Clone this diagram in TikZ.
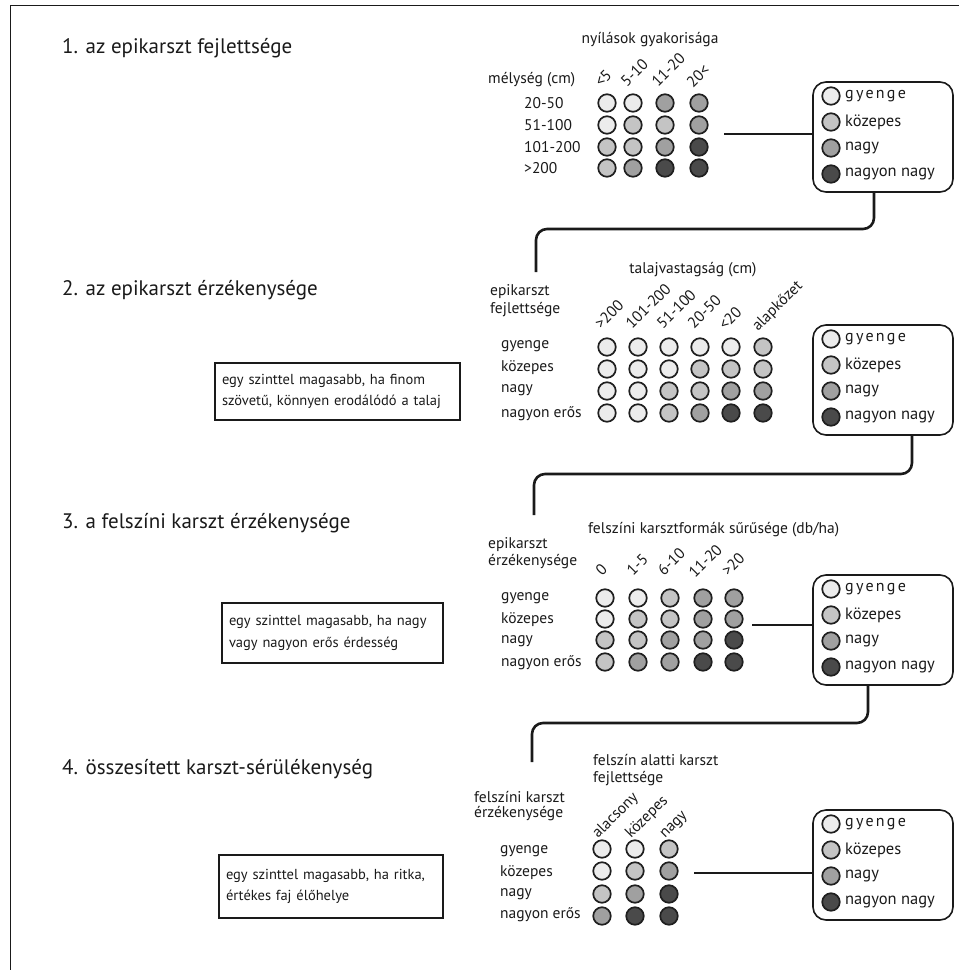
\documentclass[tikz,border=0pt]{standalone}
\usepackage{fontspec}
\setmainfont{PT Sans}
\newfontfamily\spfont[LetterSpace=14]{PT Sans}
\definecolor{g1}{HTML}{ECECEC}
\definecolor{g2}{HTML}{C4C4C4}
\definecolor{g3}{HTML}{A0A0A0}
\definecolor{g4}{HTML}{4A4A4A}
\definecolor{ink}{HTML}{1A1A1A}
\newcommand{\dotrow}[4]{%
  \foreach \xx/\ff [count=\cc] in {#4} {\node[dot,fill=g\ff] (#1-#2-\cc) at (\xx,#3) {};}}
\newcommand{\legendbox}[2]{%
  \node[legbox] (#1) at (883,#2) {};
  \node[dot,fill=g1] (#1-d1) at (831,#2-41) {};
  \node[lgt,font=\fontsize{16}{18}\selectfont\spfont] (#1-t1) at (845,#2-41) {gyenge};
  \node[dot,fill=g2] (#1-d2) at (831,#2-15) {};
  \node[lgt] (#1-t2) at (845,#2-15) {közepes};
  \node[dot,fill=g3] (#1-d3) at (831,#2+11) {};
  \node[lgt] (#1-t3) at (845,#2+11) {nagy};
  \node[dot,fill=g4] (#1-d4) at (831,#2+37) {};
  \node[lgt] (#1-t4) at (845,#2+37) {nagyon nagy};}
\tikzset{
  lab/.style={font=\fontsize{15.5}{17}\selectfont, inner sep=0pt, anchor=west, text=ink},
  lgt/.style={font=\fontsize{16.5}{18}\selectfont, inner sep=0pt, anchor=west, text=ink},
  ttl/.style={font=\fontsize{21}{24}\selectfont, inner sep=0pt, anchor=west, text=ink},
  hdr/.style={font=\fontsize{15.5}{17}\selectfont, rotate=45, anchor=base west, inner sep=0pt, text=ink},
  dot/.style={circle, draw=black!88, line width=1.7pt, minimum size=17.5pt, inner sep=0pt},
  legbox/.style={draw=ink, rounded corners=13pt, line width=1.6pt, minimum width=140pt, minimum height=110pt},
  note/.style={draw=ink, line width=1.5pt, align=left, inner xsep=7pt, text=ink,
    font=\fontsize{14.5}{21.5}\selectfont},
  conn/.style={draw=ink, line width=2.6pt, rounded corners=11pt},
}
\begin{document}
\begin{tikzpicture}[x=1pt,y=-1pt]
\useasboundingbox (0,0) rectangle (959,970);
\fill[white] (0,0) rectangle (959,970);
% page frame
\coordinate (fa) at (10,970);
\coordinate (fb) at (10,5);
\coordinate (fc) at (959,5);
\draw[ink, line width=1pt] (fa) -- (fb) -- (fc);

% ---------- section 1 ----------
\node[ttl] (t1) at (62,48) {1. az epikarszt fejlettsége};
\node[lab, anchor=center] (h1) at (650,40) {nyílások gyakorisága};
\node[lab] (y1) at (488,80) {mélység (cm)};
\node[lab] (r1a) at (524,103) {20-50};
\node[lab] (r1b) at (524,125) {51-100};
\node[lab] (r1c) at (524,147) {101-200};
\node[lab] (r1d) at (524,168) {>200};
\node[hdr] (c1a) at (601,88) {<5};
\node[hdr] (c1b) at (627,88) {5-10};
\node[hdr] (c1c) at (658,88) {11-20};
\node[hdr] (c1d) at (693,89) {20<};
\dotrow{a}{1}{103}{607/1,633/1,665/3,699/3}
\dotrow{a}{2}{125}{607/1,633/2,665/2,699/3}
\dotrow{a}{3}{147}{607/2,633/2,665/3,699/4}
\dotrow{a}{4}{168}{607/2,633/3,665/4,699/4}
\legendbox{L1}{137}
\coordinate (m1) at (724,134);
\draw[conn] (m1) -- (m1 -| L1.west);

% connector 1 -> 2
\coordinate (k1) at (874,0);
\coordinate (e1) at (536,272);
\draw[conn] (L1.south -| k1) |- (536,229) -- (e1);

% ---------- section 2 ----------
\node[ttl] (t2) at (62,290) {2. az epikarszt érzékenysége};
\node[note, minimum width=245pt, minimum height=57pt, text width=231pt] (n2) at (337.5,391.5)
  {egy szinttel magasabb, ha finom\\szövetű, könnyen erodálódó a talaj};
\node[lab, anchor=center] (h2) at (693,270) {talajvastagság (cm)};
\node[lab] (y2a) at (490,292) {epikarszt};
\node[lab] (y2b) at (490,310) {fejlettsége};
\node[lab] (r2a) at (501,346) {gyenge};
\node[lab] (r2b) at (501,368) {közepes};
\node[lab] (r2c) at (501,390) {nagy};
\node[lab] (r2d) at (501,414) {nagyon erős};
\node[hdr] (c2a) at (601,330) {>200};
\node[hdr] (c2b) at (632,330) {101-200};
\node[hdr] (c2c) at (663,330) {51-100};
\node[hdr] (c2d) at (694,330) {20-50};
\node[hdr] (c2e) at (725,331) {<20};
\node[hdr] (c2f) at (758,332) {alapkőzet};
\dotrow{b}{1}{347}{607/1,638/1,669/1,700/1,731/1,763/2}
\dotrow{b}{2}{369}{607/1,638/1,669/1,700/2,731/2,763/2}
\dotrow{b}{3}{391}{607/1,638/1,669/2,700/2,731/3,763/3}
\dotrow{b}{4}{413}{607/1,638/1,669/2,700/3,731/4,763/4}
\legendbox{L2}{380}

% connector 2 -> 3
\coordinate (k2) at (912,0);
\coordinate (e2) at (534,515);
\draw[conn] (L2.south -| k2) |- (534,474) -- (e2);

% ---------- section 3 ----------
\node[ttl] (t3) at (62,523) {3. a felszíni karszt érzékenysége};
\node[note, minimum width=221pt, minimum height=60pt, text width=207pt] (n3) at (332.5,633)
  {egy szinttel magasabb, ha nagy\\vagy nagyon erős érdesség};
\node[lab] (h3) at (588,530) {felszíni karsztformák sűrűsége (db/ha)};
\node[lab] (y3a) at (488,545) {epikarszt};
\node[lab] (y3b) at (488,562) {érzékenysége};
\node[lab] (r3a) at (501,598) {gyenge};
\node[lab] (r3b) at (501,620) {közepes};
\node[lab] (r3c) at (501,641) {nagy};
\node[lab] (r3d) at (501,663) {nagyon erős};
\node[hdr] (c3a) at (602,577) {0};
\node[hdr] (c3b) at (633,577) {1-5};
\node[hdr] (c3c) at (664,577) {6-10};
\node[hdr] (c3d) at (695,579) {11-20};
\node[hdr] (c3e) at (728,577) {>20};
\dotrow{c}{1}{598}{605/1,638/1,670/2,703/3,734/3}
\dotrow{c}{2}{619}{605/1,638/2,670/2,703/3,734/3}
\dotrow{c}{3}{640}{605/2,638/2,670/3,703/3,734/4}
\dotrow{c}{4}{662}{605/2,638/3,670/3,703/4,734/4}
\legendbox{L3}{630}
\coordinate (m3) at (752,625);
\draw[conn] (m3) -- (m3 -| L3.west);

% connector 3 -> 4
\coordinate (k3) at (868,0);
\coordinate (e3) at (532,762);
\draw[conn] (L3.south -| k3) |- (532,723) -- (e3);

% ---------- section 4 ----------
\node[ttl] (t4) at (62,769) {4. összesített karszt-sérülékenység};
\node[note, minimum width=224pt, minimum height=63pt, text width=210pt] (n4) at (331,886.5)
  {egy szinttel magasabb, ha ritka,\\értékes faj élőhelye};
\node[lab] (h4a) at (593,760) {felszín alatti karszt};
\node[lab] (h4b) at (593,779) {fejlettsége};
\node[lab] (y4a) at (474,797) {felszíni karszt};
\node[lab] (y4b) at (474,814) {érzékenysége};
\node[lab] (r4a) at (500,851) {gyenge};
\node[lab] (r4b) at (500,873) {közepes};
\node[lab] (r4c) at (500,894) {nagy};
\node[lab] (r4d) at (500,915) {nagyon erős};
\node[hdr] (c4a) at (598,839) {alacsony};
\node[hdr] (c4b) at (631,839) {közepes};
\node[hdr] (c4c) at (665,839) {nagy};
\dotrow{d}{1}{849}{602/1,635/1,669/2}
\dotrow{d}{2}{871}{602/1,635/2,669/3}
\dotrow{d}{3}{894}{602/2,635/3,669/4}
\dotrow{d}{4}{916}{602/3,635/4,669/4}
\legendbox{L4}{865}
\coordinate (m4) at (694,873);
\draw[conn] (m4) -- (m4 -| L4.west);
\end{tikzpicture}
\end{document}
